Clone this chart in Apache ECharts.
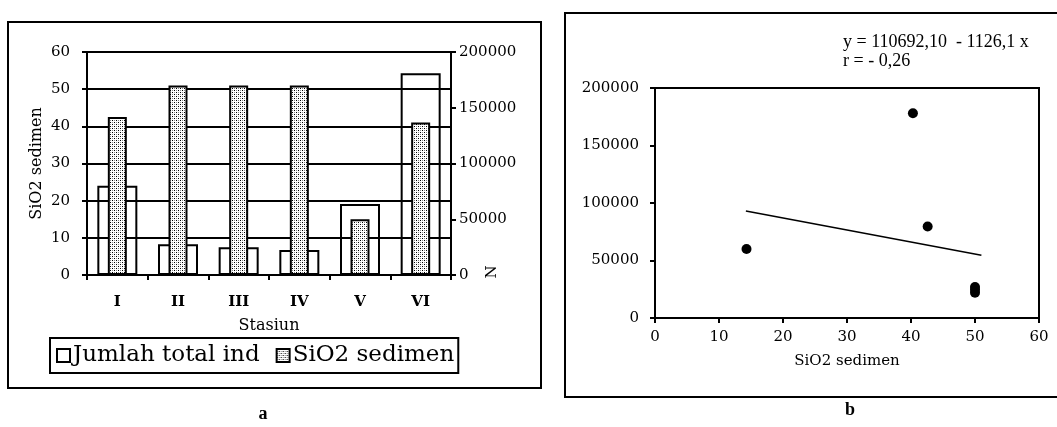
<!DOCTYPE html>
<html>
<head>
<meta charset="utf-8">
<script src="https://cdn.jsdelivr.net/npm/echarts@6/dist/echarts.min.js"></script>
<style>
html,body{margin:0;padding:0;background:#fff;}
#c{width:1057px;height:427px;}
</style>
</head>
<body>
<div id="c"></div>
<script>
// ---- data (panel a) ----
const stations = ['I', 'II', 'III', 'IV', 'V', 'VI'];
const totalInd = [80000, 27500, 24800, 22400, 63700, 181000];   // Jumlah total ind (N, right axis)
const sio2 = [42.5, 51, 51, 51, 15, 41];                          // SiO2 sedimen (left axis)
const leftTicks = [0, 60, 10];
const rightTicks = [0, 200000, 50000];

// ---- data (panel b) ----
const scatterX = [14.3, 40.3, 42.6, 50, 50, 50];
const scatterY = [60000, 178000, 79500, 27000, 24500, 22000];
const trendX = [14.2, 51];
const trendY = [93000, 54500];
const equation = 'y = 110692,10  - 1126,1 x';
const rText = 'r = - 0,26';

const FONT = '"Liberation Serif", "DejaVu Serif", serif';
const DFONT = '"DejaVu Serif", "Liberation Serif", serif';

// stipple pattern for SiO2 bars
const pc = document.createElement('canvas');
pc.width = 4; pc.height = 4;
const px = pc.getContext('2d');
px.fillStyle = '#fff'; px.fillRect(0, 0, 4, 4);
px.fillStyle = '#000';
px.fillRect(0, 0, 1, 1); px.fillRect(2, 2, 1, 1);
px.fillStyle = '#8a8a8a';
px.fillRect(2, 0, 1, 1); px.fillRect(0, 2, 1, 1);
const stipple = {image: pc, repeat: 'repeat'};

const chart = echarts.init(document.getElementById('c'), null, {renderer: 'canvas'});
const black = '#000';
const axisLine = {show: true, onZero: false, lineStyle: {color: black, width: 2}};
const tick = {show: true, length: 5, lineStyle: {color: black, width: 2}};
const plain = v => String(v);
const lab = (m, extra) => Object.assign({fontFamily: DFONT, fontSize: 15, color: black, margin: m, formatter: plain}, extra || {});

chart.setOption({
  animation: false,
  backgroundColor: '#fff',
  textStyle: {fontFamily: FONT, color: black},
  grid: [
    {left: 87, top: 52, width: 364, height: 223},
    {left: 655, top: 88, width: 384, height: 230, show: true, borderColor: black, borderWidth: 2, backgroundColor: 'transparent'}
  ],
  legend: {
    left: 50, top: 338,
    data: [
      {name: 'Jumlah total ind', itemStyle: {color: '#fff', borderColor: black, borderWidth: 2}},
      {name: 'SiO2 sedimen', itemStyle: {color: stipple, borderColor: black, borderWidth: 2}}
    ],
    icon: 'rect', itemWidth: 13, itemHeight: 13, itemGap: 16,
    borderColor: black, borderWidth: 2, padding: [6, 4, 6, 6],
    textStyle: {fontFamily: DFONT, fontSize: 23, color: black, padding: [0, 0, 0, -2]}
  },
  xAxis: [
    {type: 'category', gridIndex: 0, data: stations, axisLine: axisLine, axisTick: tick,
     axisLabel: {fontFamily: DFONT, fontSize: 15, fontWeight: 'bold', color: black, margin: 20},
     name: 'Stasiun', nameLocation: 'middle', nameGap: 43, nameTextStyle: {fontFamily: DFONT, fontSize: 16, color: black}},
    {type: 'category', gridIndex: 0, data: stations, show: false},
    {type: 'value', gridIndex: 1, min: 0, max: 60, interval: 10, axisLine: axisLine, axisTick: tick,
     splitLine: {show: false},
     axisLabel: lab(12),
     name: 'SiO2 sedimen', nameLocation: 'middle', nameGap: 36, nameTextStyle: {fontFamily: DFONT, fontSize: 15, color: black}}
  ],
  yAxis: [
    {type: 'value', gridIndex: 0, min: leftTicks[0], max: leftTicks[1], interval: leftTicks[2],
     axisLine: axisLine, axisTick: tick,
     splitLine: {show: true, lineStyle: {color: black, width: 2}},
     axisLabel: lab(17),
     name: 'SiO2 sedimen', nameLocation: 'middle', nameGap: 42, nameRotate: 90,
     nameTextStyle: {fontFamily: DFONT, fontSize: 16, color: black}},
    {type: 'value', gridIndex: 0, position: 'right', min: rightTicks[0], max: rightTicks[1], interval: rightTicks[2],
     axisLine: axisLine, axisTick: tick, splitLine: {show: false},
     axisLabel: lab(8)},
    {type: 'value', gridIndex: 1, min: 0, max: 200000, interval: 50000,
     axisLine: axisLine, axisTick: tick, splitLine: {show: false},
     axisLabel: lab(16)}
  ],
  series: [
    {name: 'Jumlah total ind', type: 'bar', xAxisIndex: 0, yAxisIndex: 1, data: totalInd, barWidth: 40,
     itemStyle: {color: 'rgba(255,255,255,0)', borderColor: black, borderWidth: 2}, z: 3},
    {name: 'SiO2 sedimen', type: 'bar', xAxisIndex: 1, yAxisIndex: 0, data: sio2, barWidth: 19,
     itemStyle: {color: stipple, borderColor: black, borderWidth: 2}, z: 4},
    {name: 'scatter', type: 'scatter', xAxisIndex: 2, yAxisIndex: 2,
     data: scatterX.map((x, i) => [x, scatterY[i]]), symbolSize: 10, itemStyle: {color: black, opacity: 1}},
    {name: 'trend', type: 'line', xAxisIndex: 2, yAxisIndex: 2,
     data: trendX.map((x, i) => [x, trendY[i]]), symbol: 'none', lineStyle: {color: black, width: 1.5}}
  ],
  graphic: [
    {type: 'rect', shape: {x: 8, y: 22, width: 533, height: 366}, style: {fill: 'none', stroke: black, lineWidth: 2}, silent: true},
    {type: 'rect', shape: {x: 565, y: 13, width: 510, height: 384}, style: {fill: 'none', stroke: black, lineWidth: 2}, silent: true},
    {type: 'text', x: 492, y: 272, rotation: Math.PI / 2, style: {text: 'N', font: '15px ' + DFONT, fill: black, textAlign: 'center', textVerticalAlign: 'middle'}},
    {type: 'text', x: 843, y: 42, style: {text: equation, font: '18px ' + FONT, fill: black, textVerticalAlign: 'middle'}},
    {type: 'text', x: 843, y: 61, style: {text: rText, font: '18px ' + FONT, fill: black, textVerticalAlign: 'middle'}},
    {type: 'text', x: 263, y: 414, style: {text: 'a', font: 'bold 18px ' + FONT, fill: black, textAlign: 'center', textVerticalAlign: 'middle'}},
    {type: 'text', x: 850, y: 410, style: {text: 'b', font: 'bold 18px ' + FONT, fill: black, textAlign: 'center', textVerticalAlign: 'middle'}}
  ]
});
</script>
</body>
</html>
